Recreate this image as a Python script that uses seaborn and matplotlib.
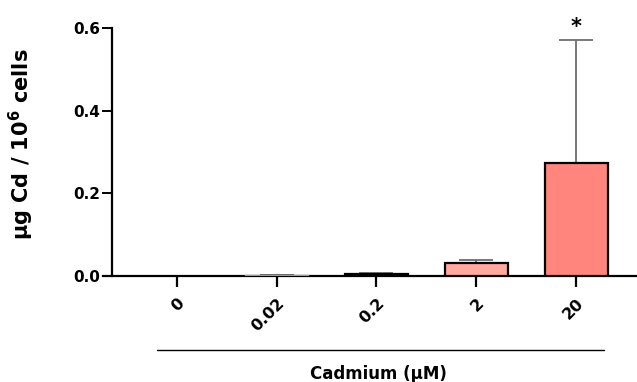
import matplotlib
matplotlib.use("Agg")
import matplotlib.pyplot as plt
import seaborn as sns
import pandas as pd
import numpy as np

categories = ["0", "0.02", "0.2", "2", "20"]
means = [0.0, 0.002, 0.004, 0.032, 0.274]
sds = [0.0, 0.0005, 0.003, 0.007, 0.297]
bar_colors = ["#FFFFFF", "#FFFFFF", "#FFD3CF", "#FFA9A1", "#FF857D"]
significance = ["", "", "", "", "*"]

sns.set_style("ticks")
plt.rcParams["font.family"] = ["DejaVu Sans"]
plt.rcParams["font.weight"] = "bold"
plt.rcParams["text.color"] = "black"
plt.rcParams["axes.labelcolor"] = "black"
plt.rcParams["xtick.color"] = "black"
plt.rcParams["ytick.color"] = "black"
plt.rcParams["axes.edgecolor"] = "black"
plt.rcParams["mathtext.default"] = "bf"

fig = plt.figure(figsize=(6.37, 3.82), dpi=100)
ax = fig.add_axes([103 / 637, 1 - 276 / 382, 1 - 103 / 637, 248 / 382])

df = pd.DataFrame({"Cadmium": categories, "value": means})
sns.barplot(data=df, x="Cadmium", y="value", hue="Cadmium", palette=bar_colors,
            order=categories, hue_order=categories, legend=False, errorbar=None,
            saturation=1, edgecolor="black", linewidth=1.6, width=0.63,
            ax=ax, zorder=3)
# styling of the tiny bars (no visible outline for the zero bar, thin gray for 0.02)
ax.patches[0].set_linewidth(0)
ax.patches[1].set_edgecolor("#9a9a9a")
ax.patches[1].set_linewidth(1.0)

xpos = np.arange(len(categories))
ax.errorbar(xpos, means, yerr=[np.zeros(len(sds)), sds], fmt="none",
            ecolor="#6e6e6e", elinewidth=1.3, capsize=12, capthick=1.3, zorder=2)

for x, m, s, t in zip(xpos, means, sds, significance):
    if t:
        ax.text(x, m + s + 0.008, t, ha="center", va="bottom", fontsize=15,
                fontweight="bold", clip_on=False)

ax.set_xlim(-0.74, 4.61)
ax.set_ylim(0, 0.6)
ax.set_yticks([0.0, 0.2, 0.4, 0.6])
ax.set_yticklabels(["0.0", "0.2", "0.4", "0.6"])
ax.spines["left"].set_position(("data", -0.65))
ax.spines["left"].set_bounds(0, 0.6)
ax.spines["top"].set_visible(False)
ax.spines["right"].set_visible(False)
for sp in ["left", "bottom"]:
    ax.spines[sp].set_linewidth(1.6)
ax.tick_params(axis="y", length=7, width=1.4, labelsize=11, pad=1.5)
ax.tick_params(axis="x", length=8, width=1.6, labelsize=11.5, pad=6)
for lbl in ax.get_xticklabels():
    lbl.set_rotation(45)
    lbl.set_ha("right")
    lbl.set_rotation_mode("anchor")
    lbl.set_fontweight("bold")
for lbl in ax.get_yticklabels():
    lbl.set_fontweight("bold")

ax.set_xlabel("")
ax.set_ylabel("μg Cd / 10$^{6}$ cells", fontsize=15, fontweight="bold")
ax.yaxis.set_label_coords(-0.125, 0.53)

ax.plot([-0.2, 4.28], [-0.298, -0.298], transform=ax.get_xaxis_transform(),
        color="black", linewidth=1.0, clip_on=False)
ax.text(2.02, -0.36, "Cadmium (μM)", transform=ax.get_xaxis_transform(),
        ha="center", va="top", fontsize=12, fontweight="bold")

fig.savefig("out.png", dpi=100)
